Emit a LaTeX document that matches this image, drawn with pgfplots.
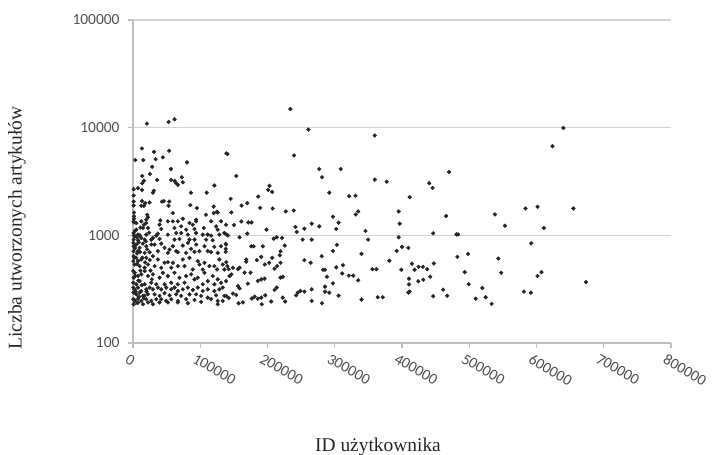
\documentclass[border=0pt]{standalone}
\usepackage{fontspec}
\setmainfont{Liberation Serif}
\newfontfamily\tickfont{Carlito}
\usepackage{pgfplots}
\usepackage{pgfplotstable}
\pgfplotsset{compat=1.18}
\definecolor{dotc}{HTML}{262626}
\definecolor{gridc}{HTML}{D4D4D4}
\definecolor{axc}{HTML}{BFBFBF}
\definecolor{tickc}{HTML}{505050}

\pgfplotstableread{
x y
640000 9930
623700 6730
359500 8450
277000 4130
309000 4130
281000 3460
470000 3875
359500 3290
377300 3150
440500 3050
445500 2755
291900 2490
321500 2310
330800 2330
411400 2260
583700 1775
601500 1840
654800 1775
538200 1563
553100 1229
610900 1170
395100 1667
396600 1283
465700 1510
331300 1563
334800 1667
297300 1490
305700 1310
302200 1146
277000 1211
345700 1098
349600 912
395100 959
446400 1043
481000 1020
483400 1020
592100 843
303200 815
297300 717
280500 640
339800 673
392100 717
400000 781
409400 765
381200 581
482400 631
498300 673
543200 609
282500 479
285500 479
302200 504
312200 528
311100 443
288400 413
321000 422
327500 422
334800 382
297300 358
285500 334
285500 300
291900 293
305700 275
281000 234
339800 253
356000 485
362000 485
364000 266
371400 266
399000 479
414800 545
418800 479
424700 510
431100 510
437500 485
447400 548
441900 413
410400 396
410400 350
424200 374
431600 387
409400 294
411400 300
446400 272
461200 313
467100 275
493300 455
499200 352
519500 324
509600 258
524400 266
533300 231
547600 449
581200 300
591600 293
601500 419
607400 455
673600 368
234000 14900
260700 9600
138800 5770
140500 5700
239500 5520
153600 3560
145200 2180
203000 2880
201000 2640
207000 2530
186200 2290
169900 1990
161500 1890
146200 1630
189100 1800
207900 1775
227200 1667
239000 1700
161000 1346
171400 1318
176300 1318
150100 1247
265700 1283
198500 1129
241500 1196
243400 1075
254800 1153
138800 1015
141200 997
158500 959
169900 1037
209300 932
213800 959
221700 946
252300 912
265700 912
137800 833
137800 748
137800 703
175800 791
179300 791
193100 791
225700 803
219300 712
218300 653
184200 588
190700 631
168400 597
168400 568
196000 536
202500 556
207000 618
210400 490
214400 518
219300 556
254800 588
264100 556
138800 563
140300 518
142200 485
148600 500
156000 485
158500 500
165900 450
174800 450
143700 419
146200 433
185600 377
190700 390
195600 396
219300 405
222700 411
170800 356
156000 338
158500 322
210400 311
213800 327
244900 293
248900 304
254800 300
265700 315
138800 273
142200 262
148600 288
153600 279
176800 259
180800 269
185600 258
190700 264
196600 277
222700 264
226200 243
205400 243
157000 234
163400 238
191500 229
265700 246
242500 277
20700 10900
52900 11300
61800 11960
13300 6410
31100 5970
53800 6100
3400 5000
15300 5000
33600 5100
44400 5300
80300 4760
28600 4330
56300 4130
13800 3560
25200 3710
16300 3220
13800 3050
35900 3270
56700 3270
61800 3200
66700 2940
64200 3050
72600 3460
74100 3110
1000 2680
7400 2740
13300 2640
31100 2600
29600 2490
121000 2900
109600 2490
86200 2490
1000 2340
1000 2060
1000 1890
13300 2080
12300 1880
16300 1880
18200 1990
24700 2020
43000 2060
45900 2080
53800 2060
52900 1880
85300 1910
95100 1790
120000 1850
124900 1655
1500 1630
1500 1500
1500 1426
1500 1318
21200 1553
22200 1473
19700 1303
40500 1376
59300 1610
59300 1346
74100 1426
93800 1397
108600 1553
120000 1610
125900 1630
1000 1349
4950 1301
12360 1349
16310 1255
19770 1397
39530 1255
51880 1349
66700 1349
71640 1211
83990 1301
88930 1255
93870 1349
105230 1169
116100 1349
123510 1211
130920 1349
138330 1255
4950 1129
14830 1169
22240 1169
42000 1145
61760 1169
79050 1129
91400 1145
800 1051
2480 980
7420 1015
12360 946
19770 1015
29650 946
34590 994
37060 1037
51880 1015
64230 1051
71640 1051
81520 1015
93870 1051
103750 1015
111160 1015
116100 994
125980 1129
128450 1015
135860 1051
1000 912
7420 899
17300 912
27180 912
39530 925
61760 912
69170 925
83990 912
91400 912
108690 912
118570 899
500 851
1000 792
4950 821
9890 765
14830 838
19770 792
27180 821
32120 821
42000 838
46940 765
54350 738
59290 792
64230 713
74110 803
81520 851
86460 748
93870 821
98810 713
106220 792
111160 713
121040 781
130920 792
138330 821
800 713
7420 713
17300 687
24710 697
37060 713
51880 687
66700 697
79050 687
91400 702
116100 697
125980 687
1000 640
4950 618
500 576
7420 576
12360 597
19770 618
29650 640
37060 597
46940 556
51880 564
59290 556
66700 518
74110 597
83990 618
96340 576
98810 536
106220 556
113630 518
121040 518
128450 597
133390 536
2480 536
9890 518
17300 500
22240 536
32120 518
42000 500
56820 500
76580 518
88930 482
103750 482
124990 482
135860 482
500 466
2480 449
7420 419
1000 404
12360 434
17300 466
22240 419
29650 434
39530 404
44470 449
51880 419
61760 449
69170 404
79050 419
86460 434
91400 390
96340 404
106220 449
111160 376
118570 419
125980 390
130920 363
138330 376
500 363
4950 351
9890 376
17300 351
27180 363
34590 351
46940 351
56820 363
66700 351
76580 363
103750 351
121040 351
500 327
2480 315
7420 327
12360 304
19770 315
24710 327
29650 315
37060 327
42000 315
49410 327
56820 315
61760 327
66700 304
74110 315
81520 327
88930 311
96340 327
103750 304
111160 315
121040 304
128450 315
133390 327
800 294
4950 283
9890 294
14830 274
22240 283
32120 283
39530 274
46940 290
54350 277
64230 283
71640 274
83990 283
93870 283
101280 274
111160 264
123510 277
135860 274
500 255
2480 246
7420 258
12360 246
19770 255
27180 246
34590 255
42000 255
49410 246
56820 255
66700 246
79050 255
91400 251
101280 241
116100 255
125980 246
133390 246
1000 229
7420 238
14830 229
22240 238
29650 229
39530 238
51880 238
66700 238
81520 234
125980 229
3000 1100
5500 960
8500 860
10500 700
2000 620
6000 540
11000 470
3500 420
8000 380
13000 345
4000 300
9000 270
16000 260
2500 250
6500 235
18000 560
21000 740
11000 1180
24000 1060
26000 470
1500 1000
19000 880
25000 590
28000 390
6000 680
14000 620
3000 760
10000 1000
20000 300
17000 275
}\scatterdata

\begin{document}
\begin{tikzpicture}
\useasboundingbox (-133bp,-112bp) rectangle (585bp,343bp);
\begin{axis}[
  at={(0,0)}, anchor=south west,
  scale only axis, width=538bp, height=323bp,
  xmin=0, xmax=800000, ymin=100, ymax=100000,
  ymode=log, log basis y=10,
  axis x line*=bottom, axis y line*=left,
  axis line style={draw=axc, line width=1.3bp},
  ymajorgrids, grid style={draw=gridc, line width=1.6bp},
  yminorticks=false,
  xtick={0,100000,200000,300000,400000,500000,600000,700000,800000},
  xticklabels={0,100000,200000,300000,400000,500000,600000,700000,800000},
  ytick={100,1000,10000,100000},
  yticklabels={100,1000,10000,100000},
  scaled x ticks=false,
  tick align=outside, major tick length=5bp,
  tick style={draw=axc, line width=1.2bp},
  xticklabel style={font=\tickfont\fontsize{15.5}{16}\selectfont, text=tickc, rotate=-30, anchor=north west, xshift=-4bp, yshift=-3bp},
  yticklabel style={font=\tickfont\fontsize{15.5}{16}\selectfont, text=tickc, xshift=-5bp},
]
\addplot[only marks, mark=*, mark size=1.9bp, color=dotc] table[x=x, y=y] {\scatterdata};
\end{axis}
\node[rotate=90, font=\fontsize{19.5}{20}\selectfont, text=black!85] at (-116bp,115bp) {Liczba utworzonych artykułów};
\node[font=\fontsize{19.5}{20}\selectfont, text=black!85] at (245bp,-104bp) {ID użytkownika};
\end{tikzpicture}
\end{document}
